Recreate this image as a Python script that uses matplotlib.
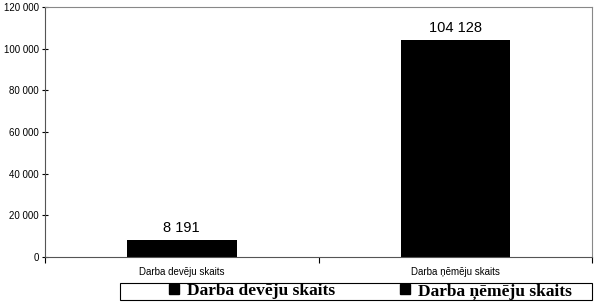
import matplotlib.pyplot as plt
from matplotlib.lines import Line2D
from matplotlib.patches import Rectangle

categories = ['Darba devēju skaits', 'Darba ņēmēju skaits']
values = [8191, 104128]
value_labels = ['8 191', '104 128']
y_ticks = [0, 20000, 40000, 60000, 80000, 100000, 120000]
y_tick_labels = ['0', '20 000', '40 000', '60 000', '80 000', '100 000', '120 000']

plt.rcParams['font.family'] = ['Liberation Sans', 'DejaVu Sans']

fig = plt.figure(figsize=(6, 3.06), dpi=100)
ax = fig.add_axes([0.075, 0.160, 0.912, 0.817])

x = range(len(categories))
ax.bar(x, values, width=0.4, color='black')
for i, (v, lab) in enumerate(zip(values, value_labels)):
    ax.text(i, v + 2600, lab, ha='center', va='bottom', fontsize=10.5)

ax.set_xlim(-0.5, 1.5)
ax.set_ylim(0, 120000)
ax.set_yticks(y_ticks)
ax.set_yticklabels(y_tick_labels, fontsize=7)
ax.set_xticks([-0.5, 0.5, 1.5])
ax.set_xticklabels([])
ax.tick_params(axis='y', direction='inout', length=5, width=0.8, pad=2)
ax.tick_params(axis='x', direction='out', length=4, width=0.8)
for i, c in enumerate(categories):
    ax.text(i, -0.04, c, transform=ax.get_xaxis_transform(), ha='center', va='top', fontsize=7)

for side in ['top', 'right']:
    ax.spines[side].set_color('#888888')
    ax.spines[side].set_linewidth(0.8)
for side in ['left', 'bottom']:
    ax.spines[side].set_color('#555555')
    ax.spines[side].set_linewidth(0.8)

# legend box drawn separately so the entries can sit where the original has them
fig.patches.append(Rectangle((120 / 600, 6 / 306), 472 / 600, 17 / 306, transform=fig.transFigure,
                             facecolor='white', edgecolor='black', linewidth=0.8))
handles = [Line2D([], [], marker='s', color='black', linestyle='none', markersize=7) for _ in categories]
fig.legend(handles, categories, loc='center left', bbox_to_anchor=(155 / 600, 14.5 / 306),
           ncol=2, frameon=False, handletextpad=0.15, columnspacing=3.4, handlelength=1.2,
           borderpad=0, prop={'family': 'Liberation Serif', 'size': 12.5, 'weight': 'bold'})

fig.savefig('out.png', dpi=100)
